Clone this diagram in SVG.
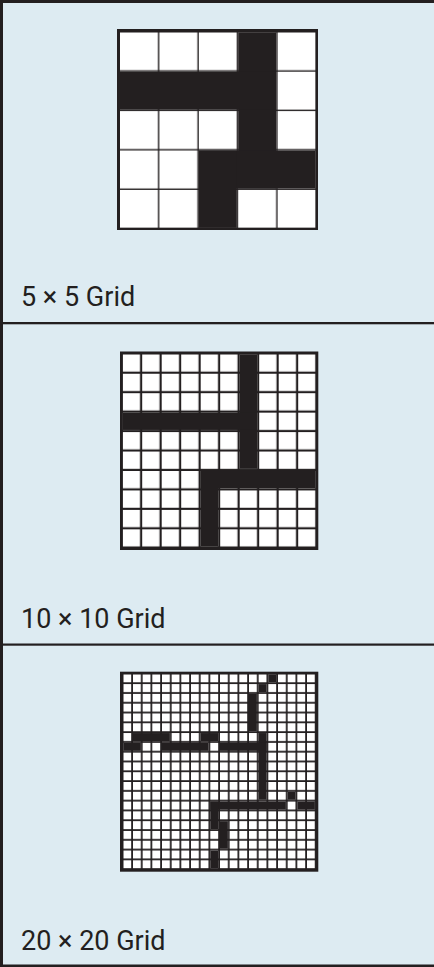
<svg xmlns="http://www.w3.org/2000/svg" width="434" height="967" viewBox="0 0 434 967">
<style>
.bg{fill:#DDEBF2}
.ink{fill:#231F20}
.lbl{font-family:Roboto,"Liberation Sans",sans-serif;font-size:27px;fill:#231F20}
</style>
<defs>
<pattern id="g5" patternUnits="userSpaceOnUse" x="120" y="32.3" width="39.4" height="39.4"><rect width="38" height="38" fill="#fff"/></pattern>
<pattern id="g10" patternUnits="userSpaceOnUse" x="122.7" y="354.3" width="19.5" height="19.45"><rect width="17.3" height="17.3" fill="#fff"/></pattern>
<pattern id="g20" patternUnits="userSpaceOnUse" x="123.3" y="674.3" width="9.667" height="9.79"><rect width="7.9" height="8" fill="#fff"/></pattern>
</defs>
<rect class="bg" x="0" y="0" width="434" height="967"/>
<g id="frame" class="ink">
<rect x="0" y="0" width="434" height="3"/>
<rect x="0" y="0" width="3" height="967"/>
<rect x="0" y="964.5" width="434" height="2.5"/>
<rect x="0" y="322" width="434" height="2.3"/>
<rect x="0" y="643.5" width="434" height="2.2"/>
</g>
<g id="grid5">
<rect class="ink" x="117" y="29" width="201" height="201"/>
<rect x="120" y="32.3" width="195.6" height="195.6" fill="url(#g5)"/>
<g class="ink">
<rect x="238.2" y="32.3" width="38" height="156.2"/>
<rect x="120" y="71.7" width="156.2" height="38"/>
<rect x="198.8" y="150.5" width="116.8" height="38"/>
<rect x="198.8" y="150.5" width="38" height="77.4"/>
</g>
<text class="lbl" x="21" y="305.5">5 × 5 Grid</text>
</g>
<g id="grid10">
<rect class="ink" x="120" y="351.5" width="198.3" height="198.5"/>
<rect x="122.7" y="354.3" width="192.8" height="192.4" fill="url(#g10)"/>
<g class="ink">
<rect x="239.7" y="354.3" width="17.3" height="114.55"/>
<rect x="122.7" y="412.65" width="134.3" height="17.3"/>
<rect x="200.7" y="471" width="114.8" height="17.3"/>
<rect x="200.7" y="471" width="17.3" height="75.65"/>
</g>
<text class="lbl" x="21" y="627.5">10 × 10 Grid</text>
</g>
<g id="grid20">
<rect class="ink" x="120" y="671.7" width="198.3" height="200"/>
<rect x="123.3" y="674.3" width="191.9" height="194.3" fill="url(#g20)"/>
<g class="ink">
<rect x="268.31" y="674.3" width="7.9" height="8"/>
<rect x="258.64" y="684.09" width="7.9" height="8"/>
<rect x="248.97" y="693.88" width="7.9" height="37.37"/>
<rect x="132.97" y="733.04" width="36.9" height="8"/>
<rect x="200.64" y="733.04" width="17.57" height="8"/>
<rect x="258.64" y="733.04" width="7.9" height="66.74"/>
<rect x="123.3" y="742.83" width="17.57" height="8"/>
<rect x="161.97" y="742.83" width="46.57" height="8"/>
<rect x="219.97" y="742.83" width="46.57" height="8"/>
<rect x="287.64" y="791.78" width="7.9" height="8"/>
<rect x="210.3" y="801.57" width="75.57" height="8"/>
<rect x="297.31" y="801.57" width="17.57" height="8"/>
<rect x="210.3" y="801.57" width="7.9" height="27.58"/>
<rect x="219.97" y="821.15" width="7.9" height="27.58"/>
<rect x="210.3" y="850.52" width="7.9" height="17.79"/>
</g>
<text class="lbl" x="21" y="950">20 × 20 Grid</text>
</g>
</svg>
